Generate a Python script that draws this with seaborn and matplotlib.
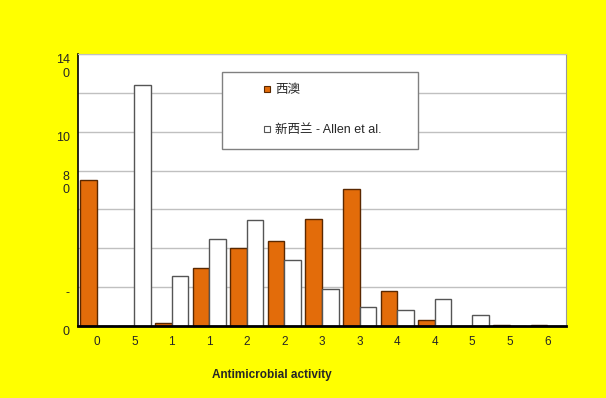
import pandas as pd
import matplotlib
matplotlib.use('Agg')
import matplotlib.pyplot as plt
import seaborn as sns
from matplotlib.lines import Line2D

categorie = ['0', '5', '1', '1', '2', '2', '3', '3', '4', '4', '5', '5', '6']
western_australia = [75, 0, 1.5, 30, 40, 44, 55, 70.5, 18, 3, 0, 0.5, 0.6]
new_zealand = [0, 124, 25.5, 45, 54.5, 34, 19, 10, 8, 14, 5.5, 0, 0]
serie = ['西澳', '新西兰 - Allen et al.']
y_ticks = [0, 20, 40, 60, 80, 100, 120, 140]
y_labels = ['0', '-', '', '', '8\n0', '10', '', '14\n0']

sns.set_style('white')
plt.rcParams['font.family'] = ['Liberation Sans', 'Noto Sans CJK SC', 'DejaVu Sans']

pos = list(range(len(categorie)))
df = pd.DataFrame({
    'pos': pos * 2,
    'valore': western_australia + new_zealand,
    'serie': [serie[0]] * len(pos) + [serie[1]] * len(pos),
})

colori = {serie[0]: '#E36C0A', serie[1]: '#FFFFFF'}
bordi = ['#5A2800', '#555555']

fig = plt.figure(figsize=(6.06, 3.98), dpi=100)
fig.patch.set_facecolor('#FFFF00')
ax = fig.add_axes([78/606, 72/398, 488/606, 272/398])
ax.set_facecolor('white')

sns.barplot(data=df, x='pos', y='valore', hue='serie', palette=colori,
            width=0.88, ax=ax, legend=False, saturation=1)
for cont, ec in zip(ax.containers, bordi):
    for b in cont:
        b.set_edgecolor(ec)
        b.set_linewidth(1.0)

ax.set_xlim(-0.5, len(categorie) - 0.5)
ax.set_ylim(0, 140)
ax.set_yticks(y_ticks)
ax.set_yticklabels(y_labels, fontsize=9, va='top')
ax.set_xticks(pos)
ax.set_xticklabels(categorie, fontsize=8.5)
ax.set_xticks([p + 0.5 for p in pos[:-1]] + [-0.5, len(categorie) - 0.5], minor=True)
ax.tick_params(axis='x', which='major', length=0, pad=7)
ax.tick_params(axis='x', which='minor', length=3, color='#333333', direction='out')
ax.tick_params(axis='y', length=3, color='#999999', direction='out', pad=3)
ax.yaxis.grid(True, color='#C0C0C0', linewidth=1)
ax.set_axisbelow(True)
ax.set_xlabel('')
ax.set_ylabel('')

ax.spines['bottom'].set_color('black')
ax.spines['bottom'].set_linewidth(2)
ax.spines['left'].set_color('black')
ax.spines['left'].set_linewidth(1.2)
ax.spines['right'].set_color('#999999')
ax.spines['top'].set_color('#C0C0C0')

fig.text(272/606, 1 - 375/398, 'Antimicrobial activity', ha='center', va='center',
         fontsize=8.5, fontweight='bold')

# legenda: marcatore quadrato spostato a destra dentro il riquadro
handles = [
    Line2D([], [], marker='s', linestyle='', markersize=5,
           markerfacecolor=colori[s], markeredgecolor=ec, markeredgewidth=0.8)
    for s, ec in zip(serie, bordi)
]
leg = ax.legend(handles, serie, loc='upper left',
                bbox_to_anchor=(222/606, 1 - 72/398, 196/606, 0),
                bbox_transform=fig.transFigure, mode='expand',
                fontsize=9, frameon=True, fancybox=False, framealpha=1,
                labelspacing=2.2, borderpad=1.0, handlelength=5.2,
                handletextpad=-1.95, borderaxespad=0)
leg.get_frame().set_edgecolor('#808080')
leg.get_frame().set_linewidth(1)

plt.savefig('out.png', dpi=100, facecolor=fig.get_facecolor())
